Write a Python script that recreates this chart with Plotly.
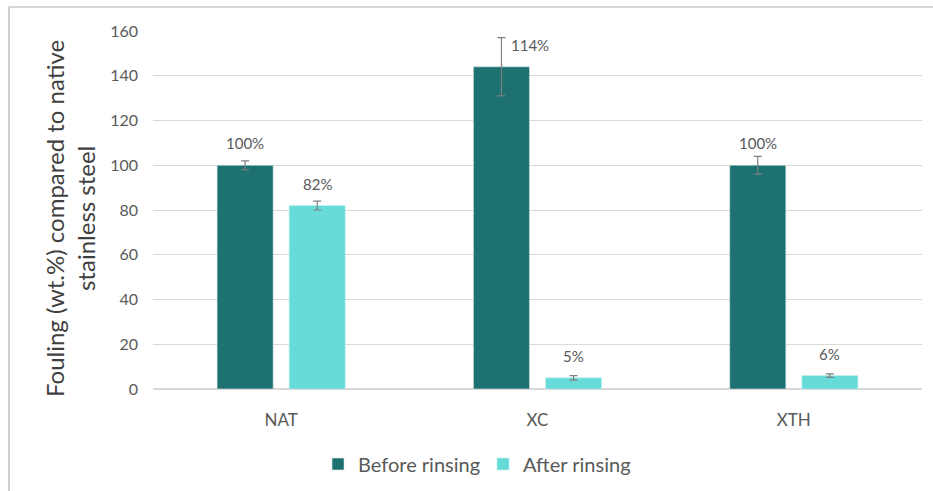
import plotly.graph_objects as go

categories = ["NAT", "XC", "XTH"]
before_vals = [100, 144, 100]
before_err = [2, 13, 4]
after_vals = [82, 5, 6]
after_err = [2, 1, 0.8]
before_labels = ["100%", "114%", "100%"]
after_labels = ["82%", "5%", "6%"]
y_ticks = [0, 20, 40, 60, 80, 100, 120, 140, 160]

W, H = 933, 491
L, R, T, B = 153, 11, 31, 102
pw, ph = W - L - R, H - T - B

def px_x(p):
    return (p - L) / pw

def px_y(p):
    return (H - B - p) / ph

font_fam = "Lato, Open Sans, sans-serif"
tick_col = "#595959"
err_col = "#7f7f7f"

fig = go.Figure()
fig.add_trace(go.Bar(
    x=categories, y=before_vals, name="Before rinsing",
    marker=dict(color="#1E7171", line=dict(color="#d9e6e6", width=0.6)),
    error_y=dict(type="data", array=before_err, color=err_col, thickness=1.2, width=4),
))
fig.add_trace(go.Bar(
    x=categories, y=after_vals, name="After rinsing",
    marker=dict(color="#66DBD9", line=dict(color="#c8f2f1", width=0.6)),
    error_y=dict(type="data", array=after_err, color=err_col, thickness=1.2, width=4),
))

annotations = []
for i, c in enumerate(categories):
    bx = -36
    shift_x = bx + (28 if c == "XC" else 0)
    annotations.append(dict(x=c, y=before_vals[i], xref="x", yref="y", text=before_labels[i],
                            showarrow=False, xshift=shift_x, yshift=11, yanchor="bottom",
                            font=dict(family=font_fam, size=15, color=tick_col)))
    annotations.append(dict(x=c, y=after_vals[i], xref="x", yref="y", text=after_labels[i],
                            showarrow=False, xshift=36, yshift=11, yanchor="bottom",
                            font=dict(family=font_fam, size=15, color=tick_col)))

annotations.append(dict(
    x=px_x(70), y=px_y(219), xref="paper", yref="paper",
    text="Fouling (wt.%) compared to native<br>stainless steel",
    textangle=-90, showarrow=False, xanchor="center", yanchor="middle",
    font=dict(family=font_fam, size=24, color="#404040"),
))

fig.update_layout(
    width=W, height=H,
    margin=dict(l=L, r=R, t=T, b=B, autoexpand=False),
    paper_bgcolor="white", plot_bgcolor="white",
    barmode="group", bargap=0.4375, bargroupgap=0.222,
    showlegend=True,
    legend=dict(orientation="h", x=px_x(318), xanchor="left", y=px_y(464), yanchor="middle",
                font=dict(family=font_fam, size=20, color=tick_col),
                itemwidth=30, traceorder="normal",
                entrywidth=120, entrywidthmode="pixels"),
    xaxis=dict(tickfont=dict(family=font_fam, size=17, color=tick_col),
               showline=False, ticks="", showgrid=False, ticklabelstandoff=19),
    yaxis=dict(range=[0, 160], tickvals=y_ticks,
               tickfont=dict(family=font_fam, size=16, color=tick_col),
               showgrid=True, gridcolor="#d9d9d9", gridwidth=1,
               zeroline=True, zerolinecolor="#d9d9d9", zerolinewidth=1.5,
               ticks="", ticklen=0, ticklabelstandoff=14),
    annotations=annotations,
    shapes=[dict(type="rect", xref="paper", yref="paper",
                 x0=px_x(9), x1=px_x(945), y0=px_y(500), y1=px_y(7),
                 line=dict(color="#b0b0b0", width=1.2), fillcolor="rgba(0,0,0,0)", layer="below")],
)

fig.write_html("out.html", config={"displayModeBar": False},
               post_script="document.body.style.margin='0';")
